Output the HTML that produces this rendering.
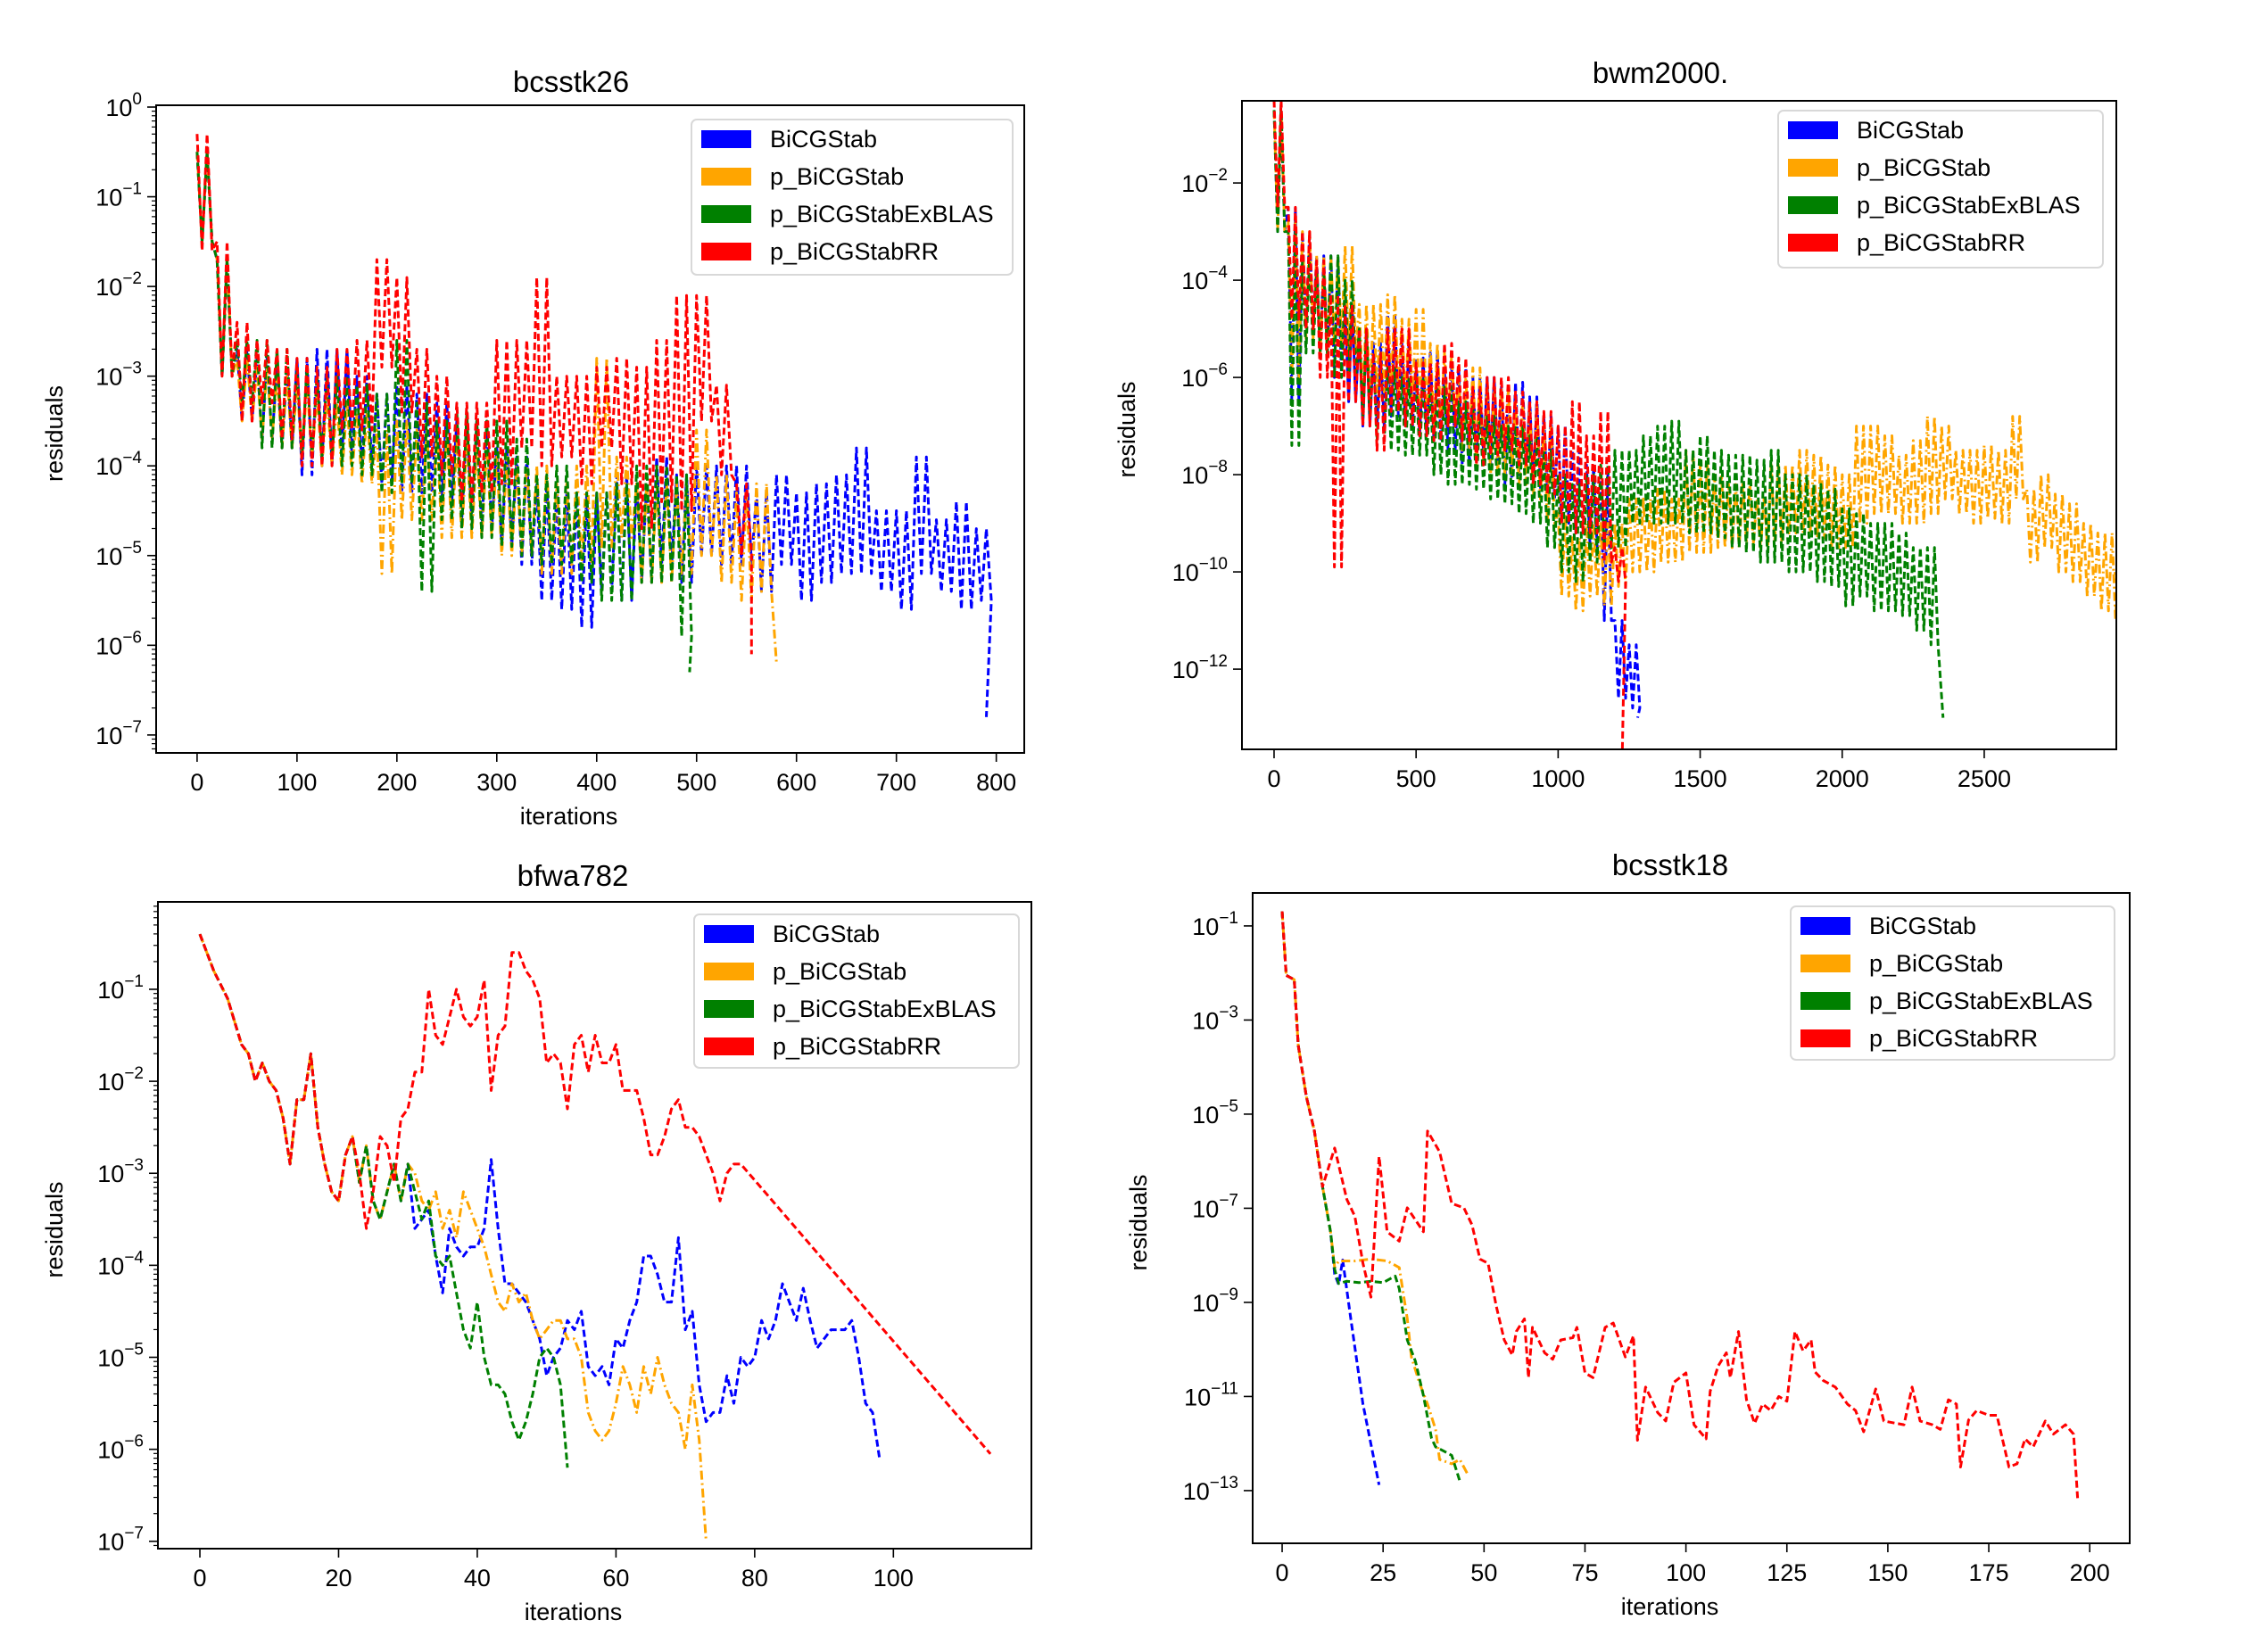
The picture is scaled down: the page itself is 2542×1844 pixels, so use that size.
<!DOCTYPE html>
<html><head><meta charset="utf-8"><style>
html,body{margin:0;padding:0;background:#fff;}
svg{display:block;font-family:"Liberation Sans",sans-serif;}
</style></head><body>
<svg id="fig" width="2542" height="1844" viewBox="0 0 2542 1844" xmlns="http://www.w3.org/2000/svg"></svg>
<script>
// ===== Data (log10 of residual) =====
// bcsstk26: envelope per 20-iteration bin (upper / lower log10 residual)
const bc26Step = 20;
const bc26BlueHi = [-0.5,-1.7,-2.7,-2.8,-2.9,-2.8,-2.7,-2.7,-3.0,-3.2,-3.1,-3.2,-3.3,-3.5,-3.5,-3.8,-3.9,-4.2,-4.3,-4.3,-4.3,-4.1,-4.2,-3.9,-4.1,-4.0,-4.0,-4.0,-4.3,-4.1,-4.3,-4.2,-4.1,-3.8,-4.5,-4.5,-3.9,-4.6,-4.4,-4.7];
const bc26BlueLo = [-1.5,-3.0,-3.5,-3.7,-3.8,-4.1,-4.0,-3.9,-4.0,-4.2,-4.3,-4.3,-4.4,-4.6,-4.7,-4.9,-5.1,-5.5,-5.6,-5.8,-5.4,-5.5,-5.3,-5.1,-5.3,-5.0,-5.1,-5.1,-5.4,-5.1,-5.5,-5.3,-5.2,-5.2,-5.4,-5.6,-5.2,-5.4,-5.6,-5.5];
const bc26BlueEnd = [790,-6.8];
const bc26OrangeHi = [-0.5,-1.7,-2.8,-2.9,-3.0,-3.1,-3.2,-3.3,-3.4,-3.6,-3.5,-3.6,-3.6,-3.7,-3.8,-3.9,-4.0,-4.0,-4.2,-4.0,-2.8,-3.9,-4.2,-4.2,-4.2,-3.6,-4.1,-4.3,-4.2];
const bc26OrangeLo = [-1.5,-3.0,-3.5,-3.7,-3.8,-3.9,-4.0,-4.1,-4.2,-5.2,-4.6,-4.6,-4.8,-4.8,-4.8,-5.0,-5.0,-5.2,-5.2,-5.1,-4.9,-4.8,-5.3,-5.3,-5.2,-5.0,-5.3,-5.5,-5.4];
const bc26OrangeEnd = [580,-6.2];
const bc26GreenHi = [-0.5,-1.7,-2.6,-2.6,-2.7,-2.9,-3.0,-3.0,-3.1,-3.2,-2.6,-3.3,-3.5,-3.4,-3.5,-3.5,-3.7,-4.1,-4.0,-4.3,-4.3,-4.2,-4.0,-4.0,-4.1];
const bc26GreenLo = [-1.5,-3.0,-3.3,-3.8,-3.8,-3.9,-3.9,-4.0,-4.1,-4.3,-4.2,-5.4,-4.6,-4.7,-4.8,-4.9,-5.0,-5.1,-5.1,-5.3,-5.5,-5.5,-5.3,-5.3,-5.9];
const bc26GreenEnd = [493,-6.3];
const bc26RedHi = [-0.3,-1.5,-2.4,-2.6,-2.7,-2.8,-2.9,-2.7,-2.6,-1.7,-1.9,-2.7,-3.0,-3.3,-3.3,-2.6,-2.6,-1.9,-3.0,-3.0,-2.9,-2.8,-2.9,-2.6,-2.1,-2.1,-3.1,-4.2];
const bc26RedLo = [-1.6,-3.0,-3.5,-3.3,-3.7,-4.0,-4.0,-3.6,-3.6,-2.9,-3.4,-3.9,-4.1,-4.4,-4.3,-4.2,-3.8,-4.0,-3.9,-4.2,-3.8,-4.2,-4.7,-4.4,-4.5,-3.5,-4.1,-5.0];
const bc26RedEnd = [555,-6.1];
const bc26XTicks = [0,100,200,300,400,500,600,700,800];
const bc26YTicks = [0,-1,-2,-3,-4,-5,-6,-7];

// bwm2000: envelope per 50-iteration bin
const bwStep = 50;
const bwBlueHi = [-0.5,-2.5,-3.0,-3.5,-3.5,-4.5,-5.0,-5.3,-4.7,-5.3,-5.6,-5.5,-5.8,-5.8,-6.0,-6.0,-6.2,-6.1,-6.4,-6.8,-7.0,-7.5,-7.8,-8.0,-11.0,-11.5];
const bwBlueLo = [-3,-6.5,-5.0,-5.5,-6.0,-6.5,-7.0,-7.0,-6.8,-7.0,-7.2,-7.3,-7.5,-7.8,-7.6,-7.8,-8.2,-8.0,-8.3,-8.5,-9.0,-9.2,-9.5,-11.0,-12.6,-12.8];
const bwBlueEnd = [1280,-13];
const bwOrangeHi = [-0.5,-2.8,-3.0,-3.5,-3.5,-3.3,-4.5,-4.5,-4.3,-4.8,-4.6,-5.3,-5.5,-6.0,-5.8,-6.2,-6.2,-6.5,-6.6,-7.0,-8.8,-9.3,-9.0,-9.0,-9.0,-8.5,-8.5,-8.3,-8.5,-7.5,-7.8,-8.0,-8.2,-8.2,-8.5,-7.8,-7.8,-7.5,-7.6,-7.8,-8.0,-7.0,-7.0,-7.2,-7.6,-7.3,-6.8,-7.0,-7.5,-7.5,-7.4,-7.5,-6.8,-8.3,-8.0,-8.4,-8.6,-9.0,-9.2,-9.2];
const bwOrangeLo = [-3,-6,-5.2,-5.5,-5.3,-5.5,-6.5,-6.3,-6.3,-6.5,-6.8,-7.0,-7.0,-7.5,-7.8,-8.0,-8.0,-8.2,-8.5,-9.0,-10.5,-10.8,-10.5,-10.7,-10.3,-10.0,-10.0,-9.8,-9.8,-9.6,-9.6,-9.5,-9.5,-9.4,-9.5,-9.4,-9.2,-9.2,-9.3,-9.5,-9.5,-9.0,-8.8,-8.8,-9.0,-9.0,-8.8,-8.5,-8.8,-9.0,-8.9,-9.0,-8.5,-9.8,-9.5,-10.0,-10.2,-10.5,-10.8,-11.0];
const bwOrangeEnd = [2960,-10.0];
const bwGreenHi = [-0.5,-3.0,-3.5,-3.8,-3.5,-4.0,-5.0,-5.5,-5.8,-6.0,-6.0,-6.2,-6.2,-6.5,-6.6,-6.8,-7.0,-7.0,-7.2,-7.5,-8.0,-8.2,-8.0,-7.8,-7.5,-7.5,-7.2,-7.0,-6.9,-7.5,-7.2,-7.5,-7.6,-7.6,-7.7,-7.5,-8.0,-8.0,-8.2,-8.3,-8.7,-8.8,-9.0,-9.0,-9.2,-9.5,-9.5];
const bwGreenLo = [-3,-7.4,-5.5,-5.5,-6.0,-6.0,-6.8,-7.3,-7.5,-7.6,-7.6,-8.0,-8.2,-8.2,-8.3,-8.5,-8.6,-8.8,-9.0,-9.5,-10.0,-10.2,-9.8,-9.5,-9.5,-9.0,-9.0,-9.0,-9.0,-9.2,-9.2,-9.3,-9.5,-9.6,-9.8,-9.8,-10.0,-10.0,-10.2,-10.3,-10.7,-10.5,-10.8,-10.8,-10.9,-11.2,-11.5];
const bwGreenEnd = [2355,-13];
const bwRedHi = [-0.3,-2.5,-3.0,-3.6,-4.3,-4.5,-5.0,-5.5,-5.0,-5.0,-5.7,-5.7,-5.3,-5.6,-6.2,-6.0,-6.0,-6.3,-6.5,-6.7,-7.0,-6.5,-7.2,-6.7,-9.5];
const bwRedLo = [-2.5,-4.8,-5.0,-6.0,-9.9,-6.5,-7.0,-7.5,-6.7,-7.0,-7.2,-7.3,-7.0,-7.3,-7.8,-7.6,-7.5,-7.8,-8.2,-8.4,-9.0,-9.2,-9.2,-9.8,-10.2];
const bwRedEnd = [1225,-14];
const bwXTicks = [0,500,1000,1500,2000,2500];
const bwYTicks = [-2,-4,-6,-8,-10,-12];

// bfwa782: per-iteration log10 residuals
const bfRedIt = [0,2,4,6,7,8,9,10,11,12,13,14,15,16,17,18,19,20,21,22,23,24,25,26,27,28,29,30,31,32,33,34,35,36,37,38,39,40,41,42,43,44,45,46,47,48,49,50,51,52,53,54,55,56,57,58,59,60,61,62,63,64,65,66,67,68,69,70,71,72,74,75,76,77,78,114];
const bfRedVal = [-0.4,-0.8,-1.1,-1.6,-1.7,-2.0,-1.8,-2.0,-2.1,-2.4,-2.9,-2.2,-2.2,-1.7,-2.5,-2.9,-3.2,-3.3,-2.8,-2.6,-3.0,-3.6,-3.2,-2.6,-2.7,-3.1,-2.4,-2.3,-1.9,-1.9,-1.0,-1.5,-1.6,-1.3,-1.0,-1.3,-1.4,-1.3,-0.9,-2.1,-1.5,-1.4,-0.6,-0.6,-0.8,-0.9,-1.1,-1.8,-1.7,-1.8,-2.3,-1.6,-1.5,-1.9,-1.5,-1.8,-1.8,-1.6,-2.1,-2.1,-2.1,-2.4,-2.8,-2.8,-2.6,-2.3,-2.2,-2.5,-2.5,-2.6,-3.0,-3.3,-3.0,-2.9,-2.9,-6.05];
const bfBlueIt = [0,2,4,6,7,8,9,10,11,12,13,14,15,16,17,18,19,20,21,22,23,24,25,26,27,28,29,30,31,32,33,34,35,36,37,38,39,40,41,42,43,44,45,46,47,48,49,50,51,52,53,54,55,56,57,58,59,60,61,62,63,64,65,66,67,68,69,70,71,72,73,74,75,76,77,78,79,80,81,82,83,84,85,86,87,88,89,90,91,92,93,94,95,96,97,98];
const bfBlueVal = [-0.4,-0.8,-1.1,-1.6,-1.7,-2.0,-1.8,-2.0,-2.1,-2.4,-2.9,-2.2,-2.2,-1.7,-2.5,-2.9,-3.2,-3.3,-2.8,-2.6,-3.1,-2.7,-3.3,-3.5,-3.2,-2.9,-3.3,-2.9,-3.6,-3.5,-3.4,-3.9,-4.3,-3.6,-3.8,-3.9,-3.8,-3.8,-3.6,-2.85,-3.6,-4.2,-4.2,-4.3,-4.4,-4.6,-4.8,-5.2,-5.0,-4.9,-4.6,-4.7,-4.5,-5.1,-5.2,-5.1,-5.3,-4.8,-4.9,-4.6,-4.4,-3.9,-3.9,-4.1,-4.4,-4.4,-3.7,-4.7,-4.5,-5.3,-5.7,-5.6,-5.6,-5.2,-5.5,-5.0,-5.1,-5.0,-4.6,-4.8,-4.6,-4.2,-4.4,-4.6,-4.25,-4.6,-4.9,-4.8,-4.7,-4.7,-4.7,-4.6,-5.0,-5.5,-5.6,-6.1];
const bfOrangeIt = [0,2,4,6,7,8,9,10,11,12,13,14,15,16,17,18,19,20,21,22,23,24,25,26,27,28,29,30,31,32,33,34,35,36,37,38,39,40,41,42,43,44,45,46,47,48,49,50,51,52,53,54,55,56,57,58,59,60,61,62,63,64,65,66,67,68,69,70,71,72,73];
const bfOrangeVal = [-0.4,-0.8,-1.1,-1.6,-1.7,-2.0,-1.8,-2.0,-2.1,-2.4,-2.9,-2.2,-2.2,-1.7,-2.5,-2.9,-3.2,-3.3,-2.8,-2.6,-3.1,-2.7,-3.3,-3.5,-3.2,-2.9,-3.3,-2.9,-3.0,-3.3,-3.4,-3.2,-3.6,-3.4,-3.7,-3.2,-3.4,-3.6,-3.8,-4.1,-4.4,-4.5,-4.2,-4.4,-4.3,-4.6,-4.8,-4.7,-4.6,-4.6,-4.8,-4.8,-5.0,-5.6,-5.8,-5.9,-5.8,-5.5,-5.1,-5.3,-5.6,-5.1,-5.4,-5.0,-5.3,-5.5,-5.6,-6.0,-5.3,-5.9,-7.0];
const bfGreenIt = [0,2,4,6,7,8,9,10,11,12,13,14,15,16,17,18,19,20,21,22,23,24,25,26,27,28,29,30,31,32,33,34,35,36,37,38,39,40,41,42,43,44,45,46,47,48,49,50,51,52,53];
const bfGreenVal = [-0.4,-0.8,-1.1,-1.6,-1.7,-2.0,-1.8,-2.0,-2.1,-2.4,-2.9,-2.2,-2.2,-1.7,-2.5,-2.9,-3.2,-3.3,-2.8,-2.6,-3.1,-2.7,-3.3,-3.5,-3.2,-2.9,-3.3,-2.9,-3.2,-3.5,-3.3,-3.9,-4.0,-3.9,-4.3,-4.7,-4.9,-4.4,-5.0,-5.3,-5.3,-5.4,-5.7,-5.9,-5.7,-5.4,-5.0,-4.9,-5.0,-5.3,-6.2];
const bfXTicks = [0,20,40,60,80,100];
const bfYTicks = [-1,-2,-3,-4,-5,-6,-7];

// bcsstk18: per-iteration log10 residuals
const b18RedIt = [0,1,3,4,6,8,10,13,16,18,20,22,24,26,29,31,35,36,39,42,45,47,49,51,53,55,57,58,60,61,62,65,67,69,72,73,75,77,80,82,85,87,88,90,93,95,97,100,102,105,106,108,110,111,113,115,117,119,121,123,125,127,129,131,132,134,137,140,142,144,147,149,152,154,156,158,161,163,165,167,168,170,172,175,177,180,182,184,186,189,191,194,196,197];
const b18RedVal = [-0.69,-2.05,-2.14,-3.54,-4.63,-5.36,-6.54,-5.72,-6.81,-7.17,-8.17,-8.89,-5.9,-7.5,-7.7,-6.99,-7.5,-5.36,-5.8,-6.9,-6.99,-7.35,-8.08,-8.17,-9.07,-9.8,-10.12,-9.62,-9.35,-10.6,-9.53,-10.07,-10.21,-9.8,-9.75,-9.53,-10.5,-10.6,-9.53,-9.44,-10.16,-9.71,-11.93,-10.8,-11.34,-11.52,-10.7,-10.5,-11.6,-11.9,-10.89,-10.35,-10.07,-10.6,-9.62,-11.07,-11.57,-11.16,-11.3,-11.0,-11.1,-9.62,-10.03,-9.8,-10.48,-10.66,-10.8,-11.16,-11.3,-11.75,-10.84,-11.52,-11.57,-11.6,-10.8,-11.52,-11.6,-11.7,-11.07,-11.16,-12.5,-11.5,-11.3,-11.4,-11.4,-12.5,-12.43,-11.9,-12.07,-11.52,-11.8,-11.6,-11.8,-13.16];
const b18BlueIt = [0,1,3,4,6,8,10,12,13,14,15,17,20,24];
const b18BlueVal = [-0.69,-2.05,-2.14,-3.54,-4.63,-5.36,-6.54,-7.5,-8.4,-8.62,-8.1,-9.35,-11.16,-12.88];
const b18OrangeIt = [0,1,3,4,6,8,10,12,13,14,18,22,26,29,31,32,34,36,38,39,42,44,46];
const b18OrangeVal = [-0.69,-2.05,-2.14,-3.54,-4.63,-5.36,-6.54,-7.5,-8.26,-8.12,-8.12,-8.08,-8.12,-8.26,-9.35,-10.16,-10.71,-11.16,-11.7,-12.34,-12.43,-12.34,-12.66];
const b18GreenIt = [0,1,3,4,6,8,10,12,13,14,16,19,22,25,28,29,31,33,35,37,38,40,42,44];
const b18GreenVal = [-0.69,-2.05,-2.14,-3.54,-4.63,-5.36,-6.54,-7.5,-8.3,-8.6,-8.55,-8.58,-8.55,-8.58,-8.44,-8.71,-9.8,-10.25,-10.98,-11.89,-12.07,-12.16,-12.25,-12.8];
const b18XTicks = [0,25,50,75,100,125,150,175,200];
const b18YTicks = [-1,-3,-5,-7,-9,-11,-13];

const legendLabels = ["BiCGStab","p_BiCGStab","p_BiCGStabExBLAS","p_BiCGStabRR"];
const COL = {blue:"#0000ff", orange:"#ffa500", green:"#008000", red:"#ff0000"};

// ===== Rendering =====
const NS = "http://www.w3.org/2000/svg";
const fig = document.getElementById("fig");
function el(tag, attrs, parent){
  const e = document.createElementNS(NS, tag);
  for (const k in attrs) e.setAttribute(k, attrs[k]);
  (parent||fig).appendChild(e);
  return e;
}
const MINUS = "\u2212";
function makePanel(id, L, T, W, H, xd, yd){
  const g = el("g", {});
  
  
  const sx = v => L + (v - xd[0]) / (xd[1] - xd[0]) * W;
  const sy = e => T + (yd[1] - e) / (yd[1] - yd[0]) * H;
  const cp = el("clipPath", {id: "clip-" + id}, g);
  el("rect", {x:L, y:T, width:W, height:H}, cp);
  const plot = el("g", {"clip-path": "url(#clip-" + id + ")"}, g);
  
  
  return {g, plot, sx, sy, L, T, W, H, xd, yd};
}
function dashFor(c){ return c === "orange" ? "10,4,2,4" : "8,4"; }
function drawLine(P, its, vals, color, name){
  const n = Math.min(its.length, vals.length);
  let d = "";
  for (let i = 0; i < n; i++) d += (i ? "L" : "M") + P.sx(its[i]).toFixed(1) + "," + P.sy(vals[i]).toFixed(1);
  const p = el("path", {d, fill:"none", stroke:COL[color], "stroke-width":3, "stroke-dasharray":dashFor(color), "stroke-linejoin":"round"}, P.plot);
  
  
}
function drawEnvelope(P, step, hi, lo, end, color, name){
  const its = [], vals = [];
  const n = Math.min(hi.length, lo.length);
  for (let i = 0; i < n; i++){
    for (let k = 0; k < 4; k++){
      its.push(i * step + k * step / 4);
      vals.push(k % 2 === 0 ? hi[i] : lo[i]);
    }
  }
  its.push(end[0]); vals.push(end[1]);
  drawLine(P, its, vals, color, name);
}
function axes(P, id, xTicks, yTicks, minor, title, titleX, titleY, xlabel, ylabelX){
  const {L, T, W, H, sx, sy, g} = P;
  const fr = el("rect", {x:L, y:T, width:W, height:H, fill:"none", stroke:"#000", "stroke-width":2}, g);
  
  
  xTicks.forEach(v => {
    const x = sx(v);
    el("line", {x1:x, x2:x, y1:T+H, y2:T+H+10, stroke:"#000", "stroke-width":1.6}, g);
    const t = el("text", {x:x, y:T+H+42, "font-size":27, "text-anchor":"middle", fill:"#000"}, g);
    t.textContent = String(v);
    
    
  });
  if (minor){
    for (let e = Math.floor(P.yd[0]); e < P.yd[1]; e++){
      for (let m = 2; m < 10; m++){
        const y = sy(e + Math.log10(m));
        if (y < T || y > T+H) continue;
        el("line", {x1:L-5, x2:L, y1:y, y2:y, stroke:"#000", "stroke-width":1.2}, g);
      }
    }
  }
  yTicks.forEach(v => {
    const y = sy(v);
    el("line", {x1:L-10, x2:L, y1:y, y2:y, stroke:"#000", "stroke-width":1.6}, g);
    const t = el("text", {x:L-16, y:y+10, "font-size":27, "text-anchor":"end", fill:"#000"}, g);
    
    
    const a = el("tspan", {}, t); a.textContent = "10";
    const b = el("tspan", {dy:-13, "font-size":19}, t);
    b.textContent = (v < 0 ? MINUS : "") + Math.abs(v);
    // shift whole label so exponent ends at tick
  });
  const tt = el("text", {x:titleX, y:titleY, "font-size":33, "text-anchor":"middle", fill:"#000"}, g);
  tt.textContent = title;
  
  
  if (xlabel){
    const xl = el("text", {x:L+W/2 - 24, y:T+H+80, "font-size":27, "text-anchor":"middle", fill:"#000"}, g);
    xl.textContent = "iterations";
    
    
  }
  const cy = T + H/2 + 5;
  const yl = el("text", {x:ylabelX, y:cy, "font-size":27, "text-anchor":"middle", fill:"#000", transform:"rotate(-90 " + ylabelX + " " + cy + ")"}, g);
  yl.textContent = "residuals";
  
  
}
function legend(P, id, x, y, w, h){
  const lg = el("g", {}, P.g);
  
  
  el("rect", {x:x, y:y, width:w, height:h, rx:6, fill:"#fff", "fill-opacity":0.85, stroke:"#d8d8d8", "stroke-width":2}, lg);
  const cols = ["blue","orange","green","red"];
  legendLabels.forEach((lab, i) => {
    const cy = y + 22 + i * 42;
    const r = el("rect", {x:x+11, y:cy-10, width:56, height:20, fill:COL[cols[i]]}, lg);
    
    
    const t = el("text", {x:x+88, y:cy+9, "font-size":27, fill:"#000"}, lg);
    t.textContent = lab;
    
    
  });
}

// Panel 1: bcsstk26
const P1 = makePanel("bcsstk26", 175, 118, 973, 726, [-41, 828], [-7.2, 0.02]);
drawEnvelope(P1, bc26Step, bc26BlueHi, bc26BlueLo, bc26BlueEnd, "blue", "bcsstk26-bicgstab-line");
drawEnvelope(P1, bc26Step, bc26OrangeHi, bc26OrangeLo, bc26OrangeEnd, "orange", "bcsstk26-p-bicgstab-line");
drawEnvelope(P1, bc26Step, bc26GreenHi, bc26GreenLo, bc26GreenEnd, "green", "bcsstk26-exblas-line");
drawEnvelope(P1, bc26Step, bc26RedHi, bc26RedLo, bc26RedEnd, "red", "bcsstk26-rr-line");
axes(P1, "bcsstk26", bc26XTicks, bc26YTicks, true, "bcsstk26", 640, 103, true, 70);
legend(P1, "bcsstk26", 775, 134, 360, 174);

// Panel 2: bwm2000
const P2 = makePanel("bwm2000", 1392, 113, 980, 727, [-113, 2965], [-13.65, -0.31]);
drawEnvelope(P2, bwStep, bwBlueHi, bwBlueLo, bwBlueEnd, "blue", "bwm2000-bicgstab-line");
drawEnvelope(P2, bwStep, bwOrangeHi, bwOrangeLo, bwOrangeEnd, "orange", "bwm2000-p-bicgstab-line");
drawEnvelope(P2, bwStep, bwGreenHi, bwGreenLo, bwGreenEnd, "green", "bwm2000-exblas-line");
drawEnvelope(P2, bwStep, bwRedHi, bwRedLo, bwRedEnd, "red", "bwm2000-rr-line");
axes(P2, "bwm2000", bwXTicks, bwYTicks, false, "bwm2000.", 1861, 93, false, 1272);
legend(P2, "bwm2000", 1993, 124, 364, 176);

// Panel 3: bfwa782
const P3 = makePanel("bfwa782", 177, 1011, 979, 725, [-6.05, 119.9], [-7.08, -0.05]);
drawLine(P3, bfBlueIt, bfBlueVal, "blue", "bfwa782-bicgstab-line");
drawLine(P3, bfOrangeIt, bfOrangeVal, "orange", "bfwa782-p-bicgstab-line");
drawLine(P3, bfGreenIt, bfGreenVal, "green", "bfwa782-exblas-line");
drawLine(P3, bfRedIt, bfRedVal, "red", "bfwa782-rr-line");
axes(P3, "bfwa782", bfXTicks, bfYTicks, true, "bfwa782", 642, 993, true, 70);
legend(P3, "bfwa782", 778, 1025, 364, 172);

// Panel 4: bcsstk18
const P4 = makePanel("bcsstk18", 1404, 1001, 983, 729, [-7.3, 209.9], [-14.12, -0.30]);
drawLine(P4, b18BlueIt, b18BlueVal, "blue", "bcsstk18-bicgstab-line");
drawLine(P4, b18OrangeIt, b18OrangeVal, "orange", "bcsstk18-p-bicgstab-line");
drawLine(P4, b18GreenIt, b18GreenVal, "green", "bcsstk18-exblas-line");
drawLine(P4, b18RedIt, b18RedVal, "red", "bcsstk18-rr-line");
axes(P4, "bcsstk18", b18XTicks, b18YTicks, false, "bcsstk18", 1872, 981, true, 1285);
legend(P4, "bcsstk18", 2007, 1016, 363, 172);
</script>
</body></html>
